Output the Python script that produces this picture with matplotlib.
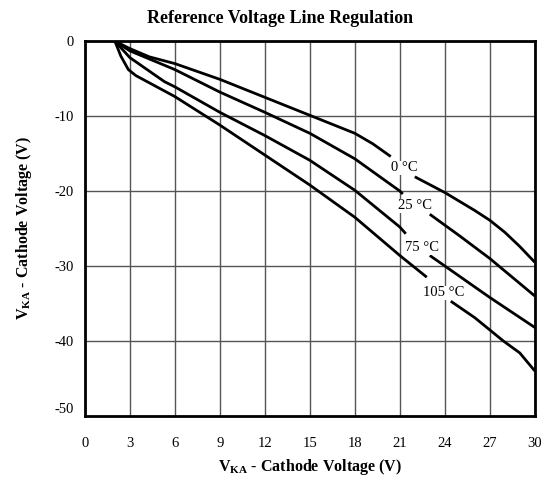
import numpy as np
import matplotlib
matplotlib.use("Agg")
import matplotlib.pyplot as plt

plt.rcParams['font.family'] = ['Liberation Serif', 'DejaVu Serif']
plt.rcParams['mathtext.fontset'] = 'custom'
plt.rcParams['mathtext.rm'] = 'Liberation Serif'
plt.rcParams['mathtext.bf'] = 'Liberation Serif:bold'
plt.rcParams['axes.unicode_minus'] = False

# Curves (two segments each, broken around the temperature label)
x0_a = [2, 3, 4.3, 6, 9, 12, 15, 18, 19.2, 20.4]
y0_a = [0, -1.0, -2.1, -3.0, -5.1, -7.5, -9.9, -12.3, -13.7, -15.4]
x0_b = [22, 24, 26, 27, 28, 29, 30]
y0_b = [-18.1, -20.2, -22.6, -23.9, -25.5, -27.4, -29.5]

x25_a = [2, 3, 6, 9, 12, 15, 18, 21, 21.2]
y25_a = [0, -1.3, -3.8, -6.8, -9.5, -12.3, -15.7, -20.0, -20.4]
x25_b = [23, 25, 27, 30]
y25_b = [-23.1, -26.0, -29.0, -34.0]

x75_a = [2, 3, 5.3, 6, 9, 12, 15, 18, 21, 21.4]
y75_a = [0, -2.2, -5.4, -6.1, -9.5, -12.6, -15.9, -19.9, -24.8, -25.7]
x75_b = [23, 25, 27, 30]
y75_b = [-28.6, -31.4, -34.2, -38.2]

x105_a = [2, 2.4, 2.9, 3.4, 6, 9, 12, 15, 18, 21, 22.8]
y105_a = [0, -2.0, -3.8, -4.6, -7.4, -11.2, -15.2, -19.2, -23.5, -28.6, -31.5]
x105_b = [24.4, 26, 27.9, 29, 30]
y105_b = [-34.7, -36.9, -40.0, -41.6, -44.0]

labels = ['0 °C', '25 °C', '75 °C', '105 °C']
label_x = [21.3, 22.0, 22.5, 23.9]
label_y = [-16.9, -22.0, -27.6, -33.6]

x_ticks = [0, 3, 6, 9, 12, 15, 18, 21, 24, 27, 30]
y_ticks = [0, -10, -20, -30, -40, -50]

fig = plt.figure(figsize=(5.44, 4.78), dpi=100)
ax = fig.add_axes([0.156, 0.13, 0.827, 0.784])

for xa, ya, xb, yb in [(x0_a, y0_a, x0_b, y0_b), (x25_a, y25_a, x25_b, y25_b),
                       (x75_a, y75_a, x75_b, y75_b), (x105_a, y105_a, x105_b, y105_b)]:
    ax.plot(xa, ya, color='black', lw=2, solid_capstyle='butt', zorder=3)
    ax.plot(xb, yb, color='black', lw=2, solid_capstyle='butt', zorder=3)

for t, lx, ly in zip(labels, label_x, label_y):
    ax.text(lx, ly, t, fontsize=10.5, ha='center', va='center', zorder=4,
            bbox=dict(facecolor='white', edgecolor='none', pad=0.5))

ax.set_xlim(0, 30)
ax.set_ylim(-50, 0)
ax.set_xticks(x_ticks)
ax.set_yticks(y_ticks)
ax.grid(True, color='#555555', lw=1.0, zorder=1)
ax.tick_params(length=0, labelsize=10.5)
ax.tick_params(axis='x', pad=15)
ax.tick_params(axis='y', pad=8)
for lab in ax.get_yticklabels():
    if lab.get_text() == '-50':
        lab.set_va('bottom')
for s in ax.spines.values():
    s.set_linewidth(2)

ax.set_xlabel(r'V$_{\mathbf{KA}}$ - Cathode Voltage (V)', fontsize=11.5, fontweight='bold', labelpad=5)
ax.set_ylabel(r'V$_{\mathbf{KA}}$ - Cathode Voltage (V)', fontsize=11.5, fontweight='bold', labelpad=15)
fig.suptitle('Reference Voltage Line Regulation', fontsize=13, fontweight='bold',
             x=0.515, y=0.962, va='center')

fig.savefig('out.png', dpi=100)
